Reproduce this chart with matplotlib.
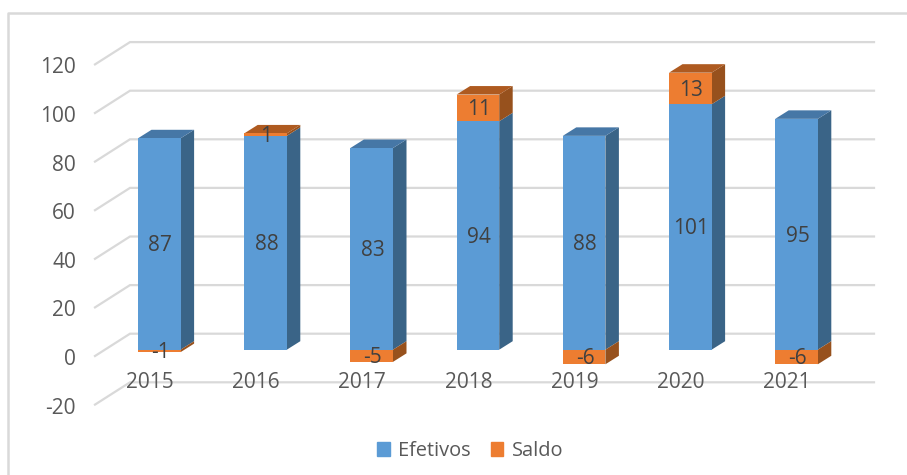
import matplotlib
matplotlib.use('Agg')
import matplotlib.pyplot as plt
from matplotlib.patches import Patch

years = ['2015', '2016', '2017', '2018', '2019', '2020', '2021']
efetivos = [87, 88, 83, 94, 88, 101, 95]
saldo = [-1, 1, -5, 11, -6, 13, -6]
y_ticks = [-20, 0, 20, 40, 60, 80, 100, 120]

plt.rcParams['font.family'] = ['Open Sans', 'DejaVu Sans']

# pixel layout of the picture
W, H = 907, 475
x0_px, step_px = 159.3, 106.2
y0_px, unit_px = 349.7, 2.43
bar_w = 42.6 / step_px
dx = 13.5 / step_px      # bar depth
dy = 8.5 / unit_px
label_drop = 2 / unit_px  # text sits a little low in the original

BLUE, BLUE_SIDE, BLUE_TOP = '#5B9BD5', '#3A6487', '#4677A6'
ORANGE, ORANGE_SIDE, ORANGE_TOP = '#ED7D31', '#97511D', '#AE5A20'
GRID = '#D9D9D9'
TXT = '#595959'
LBL = '#404040'
FS = 15


def px_x(p):
    return (p - x0_px) / step_px


def px_y(p):
    return (y0_px - p) / unit_px


fig = plt.figure(figsize=(W / 100, H / 100), dpi=100)
ax = fig.add_axes([0, 0, 1, 1])
ax.set_xlim(px_x(0), px_x(W))
ax.set_ylim(px_y(H), px_y(0))
ax.axis('off')

# outer chart frame, only top and left are visible in the crop
ax.plot([px_x(8), px_x(8), px_x(W)], [px_y(H), px_y(13), px_y(13)], color=GRID, lw=1.8, zorder=1)

# walls: diagonal from the front edge to the back, then along the back wall
front_x, back_x, end_x = px_x(95), px_x(130), px_x(874)
front_off = px_y(356)
back_off = px_y(333.7)
for v in y_ticks:
    ax.plot([front_x, back_x, end_x], [v + front_off, v + back_off, v + back_off],
            color=GRID, lw=1.6, zorder=1, solid_joinstyle='miter')
    ax.text(px_x(76), v + front_off - 0.6 - label_drop, str(v), ha='right', va='center', fontsize=FS, color=TXT, zorder=6)


def side(x, b, t, color, z):
    r = x + bar_w / 2
    ax.fill([r, r + dx, r + dx, r], [b, b + dy, t + dy, t], color=color, lw=0, zorder=z)


def top(x, t, color, z):
    l = x - bar_w / 2
    r = x + bar_w / 2
    ax.fill([l, l + dx, r + dx, r], [t, t + dy, t + dy, t], color=color, lw=0, zorder=z)


for i, (e, s) in enumerate(zip(efetivos, saldo)):
    z = 2 + i * 0.01
    ax.bar(i, e, width=bar_w, color=BLUE, lw=0, zorder=z + 0.002)
    side(i, 0, e, BLUE_SIDE, z)
    if s > 0:
        ax.bar(i, s, width=bar_w, bottom=e, color=ORANGE, lw=0, zorder=z + 0.002)
        side(i, e, e + s, ORANGE_SIDE, z)
        top(i, e + s, ORANGE_TOP, z)
        label_y = e + s / 2
    else:
        ax.bar(i, s, width=bar_w, color=ORANGE, lw=0, zorder=z + 0.002)
        side(i, s, 0, ORANGE_SIDE, z)
        top(i, e, BLUE_TOP, z)
        label_y = s / 2
    ax.text(i + 0.01, e / 2 - label_drop, str(e), ha='center', va='center', fontsize=FS, color=LBL, zorder=5)
    ax.text(i + 0.01, label_y - label_drop, str(s), ha='center', va='center', fontsize=FS, color=LBL, zorder=5)
    # year labels sit on the floor, shifted left of the bars
    ax.text(i - 9.5 / step_px, px_y(382), years[i], ha='center', va='center', fontsize=FS, color=TXT, zorder=6)

handles = [Patch(color=BLUE, label='Efetivos'), Patch(color=ORANGE, label='Saldo')]
ax.legend(handles=handles, loc='center', bbox_to_anchor=(470 / W, 1 - 451 / H), ncol=2, frameon=False,
          fontsize=14.4, labelcolor=TXT, handlelength=0.63, handleheight=0.63, handletextpad=0.42,
          columnspacing=1.0)

fig.savefig('out.png', dpi=100)
